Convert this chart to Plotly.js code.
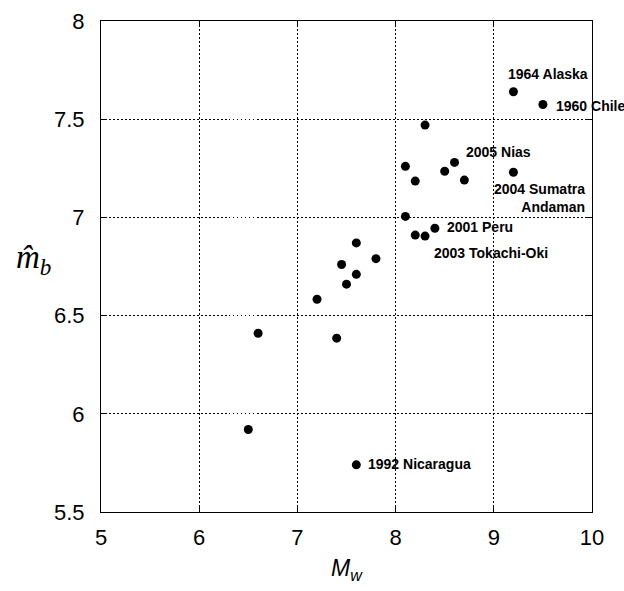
<!DOCTYPE html>
<html>
<head>
<meta charset="utf-8">
<script src="https://cdn.plot.ly/plotly-3.0.1.min.js"></script>
<style>html,body{margin:0;padding:0;background:#fff;}#chart{width:624px;height:591px;}</style>
</head>
<body>
<div id="chart"></div>
<script>
// Moment magnitude Mw (x) and estimated body-wave magnitude m̂b (y)
const mw = [9.2, 9.5, 8.3, 8.1, 8.6, 8.5, 9.2, 8.2, 8.7, 8.1, 8.2, 8.3, 8.4,
            7.6, 7.8, 7.45, 7.6, 7.5, 7.2, 6.6, 7.4, 6.5, 7.6];
const mb = [7.64, 7.575, 7.47, 7.26, 7.28, 7.235, 7.23, 7.185, 7.19, 7.005, 6.91, 6.905, 6.945,
            6.87, 6.79, 6.76, 6.71, 6.66, 6.583, 6.41, 6.385, 5.92, 5.74];

// Event labels: text and index of the labelled point
const eventNames = ["1964 Alaska", "1960 Chile", "2005 Nias", "2004 Sumatra<br>Andaman",
                    "2001 Peru", "2003 Tokachi-Oki", "1992 Nicaragua"];
const eventIndex = [0, 1, 4, 6, 12, 11, 22];

const xTicks = [5, 6, 7, 8, 9, 10];
const yTicks = [5.5, 6, 6.5, 7, 7.5, 8];

// label placement (pixel offsets from the point) - style only
const labelStyle = [
  {xanchor: 'left',  xshift: -6, yshift: 18},
  {xanchor: 'left',  xshift: 12, yshift: -2},
  {xanchor: 'left',  xshift: 10, yshift: 10},
  {xanchor: 'right', xshift: 73, yshift: -26, align: 'right'},
  {xanchor: 'left',  xshift: 11, yshift: 1},
  {xanchor: 'left',  xshift: 8,  yshift: -17},
  {xanchor: 'left',  xshift: 11, yshift: 1}
];

const labelFont = {family: 'Liberation Sans, Arial, sans-serif', size: 14, color: '#000', weight: 'bold'};

const annotations = eventNames.map((t, k) => Object.assign({
  x: mw[eventIndex[k]], y: mb[eventIndex[k]], xref: 'x', yref: 'y',
  text: '<b>' + t + '</b>', showarrow: false, yanchor: 'middle',
  font: labelFont, borderpad: 0
}, labelStyle[k]));

// horizontal y-axis label
annotations.push({
  xref: 'paper', yref: 'paper', x: -0.137, y: 0.515, xanchor: 'center', yanchor: 'middle',
  text: '<i>m̂</i><sub><i>b</i></sub>', showarrow: false,
  font: {family: 'Liberation Serif, Times New Roman, serif', size: 33, color: '#000'}
});

const axisCommon = {
  showline: true, linecolor: '#000', linewidth: 1, mirror: 'ticks',
  ticks: 'inside', ticklen: 6, tickcolor: '#000', tickwidth: 1,
  showgrid: true, gridcolor: '#000', gridwidth: 1, griddash: '1.5px,2.5px',
  zeroline: false,
  tickfont: {family: 'Liberation Sans, Arial, sans-serif', size: 22, color: '#000'}
};

const trace = {
  x: mw, y: mb, type: 'scatter', mode: 'markers',
  marker: {color: '#000', size: 9, line: {width: 0}},
  hoverinfo: 'x+y'
};

const layout = {
  width: 624, height: 591,
  margin: {l: 100.7, r: 31.7, t: 20.7, b: 78.7},
  paper_bgcolor: '#fff', plot_bgcolor: '#fff',
  showlegend: false,
  xaxis: Object.assign({}, axisCommon, {
    range: [5, 10], tickvals: xTicks, ticktext: xTicks.map(String),
    ticklabelstandoff: 6,
    title: {text: '<i>M</i><sub><i>w</i></sub>', standoff: 10,
            font: {family: 'Liberation Sans, Arial, sans-serif', size: 23, color: '#000'}}
  }),
  yaxis: Object.assign({}, axisCommon, {
    range: [5.5, 8], tickvals: yTicks, ticktext: yTicks.map(String),
    ticklabelstandoff: 11
  }),
  annotations: annotations
};

Plotly.newPlot('chart', [trace], layout, {displayModeBar: false, staticPlot: true});
</script>
</body>
</html>
